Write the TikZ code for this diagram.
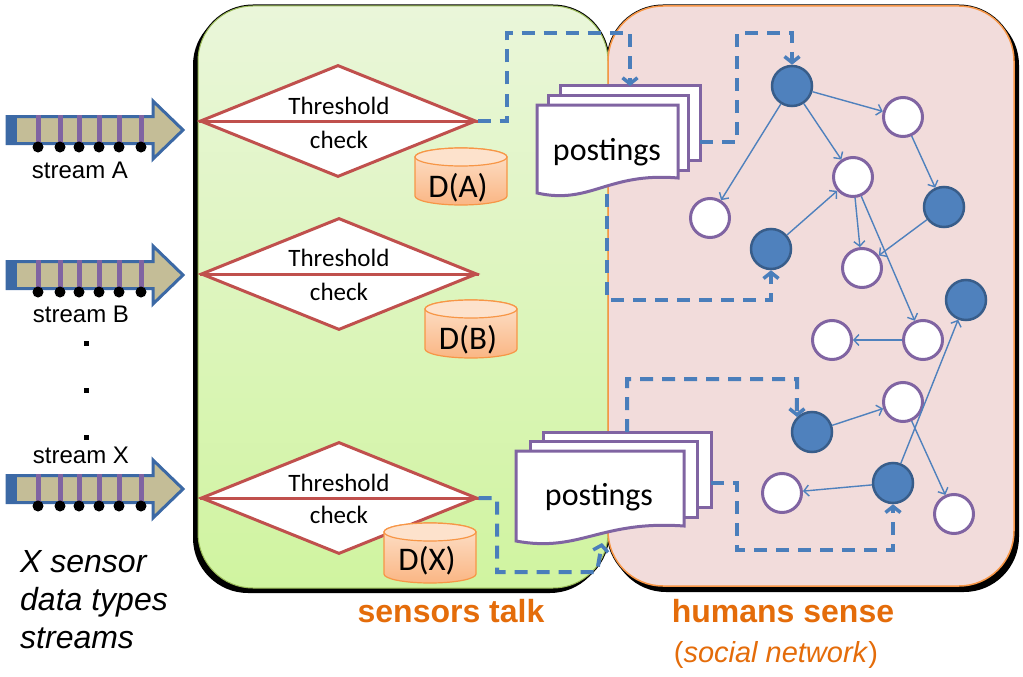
\documentclass[tikz,border=0pt]{standalone}
\usepackage{fontspec}
\setmainfont{Liberation Sans}
\newfontfamily\calibrif{Carlito}
\usetikzlibrary{arrows.meta,shapes.geometric,calc}
\definecolor{nodeblue}{RGB}{79,129,189}
\definecolor{nodedark}{RGB}{56,93,138}
\definecolor{purp}{RGB}{128,100,162}
\definecolor{dashblue}{RGB}{74,126,187}
\definecolor{redd}{RGB}{192,80,77}
\definecolor{streamtan}{RGB}{196,189,151}
\definecolor{streamblue}{RGB}{60,105,165}
\definecolor{orangeb}{RGB}{247,150,70}
\definecolor{cyltop}{RGB}{253,226,204}
\definecolor{cylbot}{RGB}{250,182,132}
\definecolor{pinkf}{RGB}{242,220,219}
\definecolor{greentop}{RGB}{234,246,218}
\definecolor{greenbot}{RGB}{208,244,160}
\definecolor{greenb}{RGB}{155,187,89}
\definecolor{labelor}{RGB}{228,108,10}
\newcommand\streamarrow[1]{%
  \draw[fill=streamtan, draw=streamblue, line width=3pt, line join=miter]
    (7,#1-13.5) -- (153,#1-13.5) -- (153,#1-29) -- (183,#1) -- (153,#1+29) -- (153,#1+13.5) -- (7,#1+13.5) -- cycle;
  \fill[streamblue] (6,#1-14) rectangle (17,#1+14);
  \foreach \bx in {38,60,79,99,119,141}{
    \draw[purp, line width=5pt] (\bx,#1-15) -- (\bx,#1+14);
    \fill[black] (\bx,#1+17) circle (5.5pt);
  }
}
\newcommand\dbcyl[6]{% cx, top ellipse y, bottom ellipse y, label, name, label y
  \path[top color=cyltop, bottom color=cylbot, draw=orangeb, line width=1.2pt]
    (#1-46,#2) -- (#1-46,#3) arc[start angle=180,end angle=360,x radius=46pt,y radius=9pt]
    -- (#1+46,#2) arc[start angle=0,end angle=180,x radius=46pt,y radius=9pt] -- cycle;
  \draw[fill=cyltop, draw=orangeb, line width=1.2pt] (#1,#2) ellipse[x radius=46pt,y radius=9pt];
  \node[cyltxt] (#5) at (#1-3,#6) {#4};
}
\newcommand\docrect[4]{%
  \draw[fill=white, draw=purp, line width=3pt] (#1,#2) rectangle (#3,#4);}
\newcommand\docfront[5]{%
  \draw[fill=white, draw=purp, line width=3pt, line join=miter]
    (#1,#2) -- (#3,#2) -- (#3,#4) .. controls ({#1+0.5*(#3-#1)},{#4-6}) and ({#1+0.38*(#3-#1)},{#5+12}) .. (#1,#5) -- cycle;}
\tikzset{
  fnode/.style={circle, fill=nodeblue, draw=nodedark, line width=2.5pt, minimum size=40pt, inner sep=0pt},
  wnode/.style={circle, fill=white, draw=purp, line width=3pt, minimum size=39pt, inner sep=0pt},
  gedge/.style={draw=nodeblue, line width=1.4pt, -{Straight Barb[length=5pt,width=11pt]}},
  dconn/.style={draw=dashblue, line width=4pt, dash pattern=on 13pt off 9pt, -{Straight Barb[length=6pt,width=15pt,line width=3.5pt]}},
  diam/.style={diamond, draw=redd, fill=white, line width=3pt, minimum width=276pt, minimum height=112pt, inner sep=0pt},
  thtxt/.style={font=\calibrif\fontsize{25}{28}\selectfont, inner sep=0pt},
  cyltxt/.style={font=\calibrif\fontsize{33}{36}\selectfont, inner sep=0pt},
  ptxt/.style={font=\calibrif\fontsize{32}{36}\selectfont, inner sep=0pt},
  strtxt/.style={font=\fontsize{24}{28}\selectfont, inner sep=0pt},
  lbl/.style={font=\bfseries\fontsize{32}{36}\selectfont, text=labelor, inner sep=0pt},
  elldot/.style={fill=black},
}
\begin{document}
\begin{tikzpicture}[x=1pt,y=-1pt]
\useasboundingbox (0,0) rectangle (1023,677);
% boxes
\fill[black, rounded corners=55pt] (193,10) rectangle (605,593);
\fill[black, rounded corners=55pt] (611,10) rectangle (1019,592);
\draw[black, line width=3pt, rounded corners=55pt] (198,6) rectangle (608,588);
\draw[black, line width=3pt, rounded corners=55pt] (608,6) rectangle (1014,586);
\shade[top color=greentop, bottom color=greenbot, rounded corners=55pt] (198,6) rectangle (608,588);
\fill[pinkf, rounded corners=55pt] (608,6) rectangle (1014,586);
\draw[greenb, line width=1pt, rounded corners=55pt] (198,6) rectangle (608,588);
\draw[orangeb, line width=1.5pt, rounded corners=55pt] (608,6) rectangle (1014,586);
% streams
\streamarrow{130}
\streamarrow{275}
\streamarrow{489}
\node[strtxt] (sA) at (80,170) {stream A};
\node[strtxt] (sB) at (81,314) {stream B};
\node[strtxt] (sX) at (81,455) {stream X};
\fill[elldot] (84,341) rectangle (88.5,345.5);
\fill[elldot] (84,388) rectangle (88.5,392.5);
\fill[elldot] (84,435) rectangle (88.5,439.5);
\node[align=left, anchor=west, font=\itshape\fontsize{32}{38}\selectfont, inner sep=0pt] (xlab) at (20,600) {X sensor\\data types\\streams};
% diamonds
\node[diam] (dA) at (338,121) {};
\draw[redd, line width=3pt] (dA.west) -- (dA.east);
\node[thtxt] (tA1) at (339,106) {Threshold};
\node[thtxt] (tA2) at (339,139.5) {check};
\node[diam] (dB) at (339,274) {};
\draw[redd, line width=3pt] (dB.west) -- (dB.east);
\node[thtxt] (tB1) at (339,258) {Threshold};
\node[thtxt] (tB2) at (339,291.5) {check};
\node[diam] (dX) at (339,498) {};
\draw[redd, line width=3pt] (dX.west) -- (dX.east);
\node[thtxt] (tX1) at (339,483) {Threshold};
\node[thtxt] (tX2) at (339,515) {check};
% cylinders
\dbcyl{461}{157}{196}{D(A)}{cA}{187.5}
\dbcyl{471}{309}{349}{D(B)}{cB}{339.5}
\dbcyl{430}{532}{574}{D(X)}{cX}{560.5}
% postings
\docrect{560}{86}{700}{160}
\docrect{548}{95}{688}{170}
\docfront{537}{105}{678}{178}{193}
\node[ptxt] (pA) at (607,152) {postings};
\docrect{543}{432}{711}{507}
\docrect{530}{441}{697}{517}
\docfront{516}{451}{684}{526}{541}
\node[ptxt] (pX) at (599,497) {postings};
\coordinate (aTop) at (630,86);
\coordinate (aRight) at (700,142);
\coordinate (aBot) at (607,194);
\coordinate (xTop) at (627,432);
\coordinate (xRight) at (711,483);
\coordinate (xBot) at (602,543);
% network
\node[fnode] (n1) at (792,86) {};
\node[wnode] (n2) at (903,117) {};
\node[wnode] (n3) at (853,177) {};
\node[fnode] (n4) at (944,207) {};
\node[wnode] (n5) at (710,218) {};
\node[fnode] (n6) at (771,249) {};
\node[wnode] (n7) at (862,268) {};
\node[fnode] (n8) at (966,300) {};
\node[wnode] (n9) at (832,340) {};
\node[wnode] (n10) at (923,340) {};
\node[wnode] (n11) at (903,402) {};
\node[fnode] (n12) at (812,432) {};
\node[fnode] (n13) at (893,483) {};
\node[wnode] (n14) at (782,493) {};
\node[wnode] (n15) at (954,514) {};
\draw[gedge] (n1) -- (n2);
\draw[gedge] (n1) -- (n5);
\draw[gedge] (n1) -- (n3);
\draw[gedge] (n2) -- (n4);
\draw[gedge] (n6) -- (n3);
\draw[gedge] (n3) -- (n7);
\draw[gedge] (n4) -- (n7);
\draw[gedge] (n3) -- (n10);
\draw[gedge] (n10) -- (n9);
\draw[gedge] (n13) -- (n8);
\draw[gedge] (n12) -- (n11);
\draw[gedge] (n11) -- (n15);
\draw[gedge] (n13) -- (n14);
% dashed connectors
\draw[dconn] (dA.east) -| (507,33) -- (630,33) -- (aTop);
\draw[dconn] (aRight) -| (737,33) -| (n1.north);
\draw[dconn] (aBot) |- (771,300) -- (n6.south);
\draw[dconn] (dX.east) -| (497,572) -- (597,572) -- (xBot);
\draw[dconn] (xTop) |- (797,379) -- (n12.north west);
\draw[dconn] (xRight) -| (737,550) -| (n13.south);
% labels
\node[lbl] (lst) at (451,611) {sensors talk};
\node[lbl] (lhs) at (783,611) {humans sense};
\node[font=\fontsize{29}{32}\selectfont, text=labelor, inner sep=0pt] (lsn) at (776,655) {(\textit{social network})};
\end{tikzpicture}
\end{document}
